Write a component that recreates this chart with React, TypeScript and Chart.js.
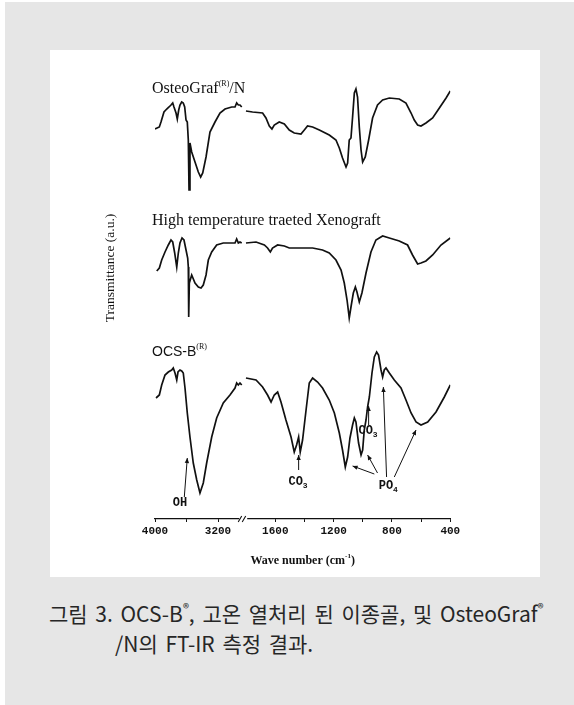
import React, { useEffect, useRef } from "react";
import { Chart, registerables } from "chart.js";

Chart.register(...registerables);

// ---- Spectra: wavenumber (cm^-1) and offset transmittance (a.u.) ----
// OsteoGraf/N
const osteoHighWn = [4000, 3945, 3924, 3886, 3851, 3822, 3797, 3775, 3759, 3733, 3717, 3699, 3683, 3661, 3641, 3623, 3606, 3590, 3577, 3568, 3556, 3534, 3492, 3450, 3420, 3394, 3352, 3302, 3238, 3175, 3111, 3026, 2984, 2963, 2942, 2921, 2899];
const osteoHighT = [39.0, 39.2, 39.7, 40.7, 41.0, 41.2, 41.4, 41.6, 41.2, 40.6, 40.0, 40.9, 41.4, 41.7, 41.6, 41.2, 39.9, 39.7, 37.9, 32.9, 37.6, 36.7, 35.7, 34.7, 34.2, 34.6, 36.2, 38.7, 39.7, 40.6, 41.0, 41.2, 41.2, 41.6, 41.4, 41.4, 41.2];
const osteoLowWn = [1801, 1756, 1687, 1664, 1641, 1623, 1607, 1573, 1538, 1504, 1470, 1424, 1401, 1379, 1344, 1298, 1230, 1184, 1161, 1139, 1115, 1104, 1093, 1081, 1070, 1058, 1047, 1036, 1024, 1012, 1001, 983, 960, 933, 899, 864, 818, 750, 704, 669, 647, 624, 601, 567, 521, 475, 429, 400];
const osteoLowT = [40.8, 40.7, 40.6, 40.1, 39.3, 39.0, 39.4, 39.7, 39.5, 38.9, 38.6, 38.5, 38.9, 39.3, 39.2, 38.9, 38.4, 37.9, 37.1, 36.1, 35.2, 35.6, 37.9, 38.1, 40.2, 42.6, 43.0, 42.2, 39.2, 36.9, 35.7, 36.2, 37.9, 40.1, 41.4, 41.9, 42.1, 42.0, 41.6, 40.6, 39.9, 39.4, 39.3, 39.6, 40.1, 41.1, 42.1, 42.8];

// High temperature treated xenograft
const xenoHighWn = [3978, 3945, 3915, 3873, 3831, 3797, 3775, 3750, 3724, 3704, 3683, 3657, 3632, 3606, 3585, 3577, 3572, 3564, 3534, 3492, 3450, 3416, 3387, 3352, 3323, 3280, 3217, 3133, 3026, 2984, 2963, 2942, 2921, 2899];
const xenoHighT = [24.8, 25.1, 25.9, 26.7, 27.4, 27.9, 27.7, 26.6, 25.2, 26.6, 27.6, 28.1, 27.9, 26.9, 26.1, 25.2, 20.2, 23.6, 24.4, 23.6, 23.2, 23.1, 23.4, 24.4, 25.9, 26.7, 27.4, 27.6, 27.6, 27.6, 28.0, 27.6, 27.7, 27.6];
const xenoLowWn = [1801, 1732, 1675, 1653, 1634, 1619, 1584, 1538, 1504, 1435, 1344, 1276, 1230, 1184, 1149, 1127, 1108, 1097, 1093, 1081, 1065, 1051, 1040, 1024, 1006, 978, 944, 910, 864, 818, 750, 693, 659, 624, 601, 567, 521, 464, 400];
const xenoLowT = [27.6, 27.7, 27.4, 27.1, 26.7, 27.1, 27.4, 27.3, 27.1, 27.1, 27.1, 26.9, 26.6, 25.9, 24.9, 23.6, 21.9, 20.6, 20.1, 21.2, 22.6, 23.2, 22.7, 21.7, 22.6, 24.6, 26.7, 27.9, 28.3, 28.1, 27.8, 27.4, 26.4, 25.5, 25.6, 25.8, 26.4, 27.4, 28.1];

// OCS-B
const ocsHighWn = [3987, 3945, 3915, 3873, 3831, 3788, 3768, 3746, 3724, 3708, 3683, 3661, 3641, 3619, 3590, 3556, 3514, 3470, 3429, 3387, 3344, 3280, 3217, 3133, 3048, 2984, 2963, 2942, 2921, 2899];
const ocsHighT = [12.1, 12.4, 13.4, 14.4, 14.7, 14.9, 15.1, 14.6, 13.9, 14.7, 14.9, 14.8, 14.6, 13.1, 10.6, 8.2, 5.6, 3.9, 2.6, 3.6, 5.6, 8.2, 10.1, 11.6, 12.4, 13.1, 13.6, 13.4, 13.6, 13.4];
const ocsLowWn = [1801, 1732, 1687, 1653, 1629, 1607, 1584, 1561, 1527, 1492, 1470, 1454, 1440, 1429, 1413, 1389, 1367, 1344, 1310, 1276, 1230, 1195, 1161, 1139, 1120, 1104, 1088, 1070, 1058, 1047, 1029, 1012, 1001, 990, 978, 967, 955, 937, 921, 905, 892, 875, 864, 853, 841, 818, 784, 738, 704, 669, 635, 601, 555, 498, 441, 400];
const ocsLowT = [14.1, 13.9, 13.2, 12.4, 11.7, 12.4, 12.7, 11.7, 9.9, 8.2, 6.7, 7.4, 8.2, 6.7, 7.9, 10.9, 13.6, 14.1, 13.7, 13.1, 11.9, 10.6, 8.6, 6.9, 5.2, 6.2, 8.1, 9.4, 10.1, 9.7, 7.6, 6.4, 6.9, 8.9, 9.9, 11.2, 12.2, 14.6, 16.2, 16.7, 16.4, 14.9, 14.2, 14.9, 15.1, 14.6, 13.9, 13.1, 11.9, 10.6, 9.7, 9.4, 9.7, 10.7, 12.2, 13.4];

// ---- Axes ----
const highRange = [2880, 4000];
const lowRange = [400, 1820];
const highTicks = [4000, 3600, 3200];
const highTickLabels = ["4000", "", "3200"];
const lowTicks = [1600, 1400, 1200, 1000, 800, 600, 400];
const lowTickLabels = ["1600", "", "1200", "", "800", "", "400"];
const yRange = [0, 46];

// ---- Labels & annotations (data coordinates) ----
const seriesNames = ["OsteoGraf", "High temperature traeted Xenograft", "OCS-B"];
const seriesSup = ["(R)", "", "(R)"];
const seriesTail = ["/N", "", ""];
const seriesLabelWn = [4038, 4038, 4038];
const seriesLabelT = [43.0, 29.8, 16.7];

const bandNames = ["OH", "CO", "CO", "PO"];
const bandSubs = ["", "3", "3", "4"];
const bandAxis = ["xHigh", "xLow", "xLow", "xLow"];
const bandWn = [3683, 1444, 964, 825];
const bandT = [1.65, 3.7, 8.8, 3.3];

const arrowAxis = ["xHigh", "xLow", "xLow", "xLow", "xLow", "xLow", "xLow"];
const arrowFromWn = [3628, 1440, 960, 921, 899, 837, 784];
const arrowFromT = [2.2, 4.9, 9.4, 4.5, 4.6, 4.2, 4.2];
const arrowToWn = [3590, 1440, 960, 1070, 967, 859, 635];
const arrowToT = [6.1, 6.4, 11.3, 5.3, 6.4, 13.2, 8.9];

const SERIF = '"Liberation Serif", "Times New Roman", serif';
const MONO = '"Liberation Mono", "Courier New", monospace';
const SANS = '"Liberation Sans", Arial, sans-serif';
const INK = "#111";

type Part = { text: string; font: string; dy: number };

function drawRich(ctx: CanvasRenderingContext2D, parts: Part[], x: number, y: number, align: "left" | "center") {
  let total = 0;
  const widths = parts.map((p) => {
    ctx.font = p.font;
    const w = ctx.measureText(p.text).width;
    total += w;
    return w;
  });
  let cx = align === "center" ? x - total / 2 : x;
  parts.forEach((p, i) => {
    ctx.font = p.font;
    ctx.fillText(p.text, cx, y + p.dy);
    cx += widths[i];
  });
}

function drawArrow(ctx: CanvasRenderingContext2D, x1: number, y1: number, x2: number, y2: number) {
  ctx.beginPath();
  ctx.moveTo(x1, y1);
  ctx.lineTo(x2, y2);
  ctx.stroke();
  const a = Math.atan2(y2 - y1, x2 - x1);
  const L = 5, W = 2.2;
  ctx.beginPath();
  ctx.moveTo(x2, y2);
  ctx.lineTo(x2 - L * Math.cos(a) + W * Math.sin(a), y2 - L * Math.sin(a) - W * Math.cos(a));
  ctx.lineTo(x2 - L * Math.cos(a) - W * Math.sin(a), y2 - L * Math.sin(a) + W * Math.cos(a));
  ctx.closePath();
  ctx.fill();
}

const annotPlugin = {
  id: "ftirAnnot",
  afterDraw(chart: any) {
    const ctx: CanvasRenderingContext2D = chart.ctx;
    const sc = chart.scales;
    const px = (axis: string, wn: number) => sc[axis].getPixelForValue(wn);
    const py = (t: number) => sc.y.getPixelForValue(t);
    const area = chart.chartArea;
    ctx.save();
    ctx.fillStyle = INK;
    ctx.strokeStyle = INK;
    ctx.textBaseline = "middle";

    // axis break "//"
    const jx = sc.xHigh.right;
    const ay = sc.xHigh.top;
    ctx.fillStyle = "#fff";
    ctx.fillRect(jx - 4, ay - 2, 8, 4);
    ctx.fillStyle = INK;
    ctx.lineWidth = 1.1;
    ctx.beginPath();
    ctx.moveTo(jx - 5, ay + 3);
    ctx.lineTo(jx - 1.5, ay - 3);
    ctx.moveTo(jx - 1, ay + 3);
    ctx.lineTo(jx + 2.5, ay - 3);
    ctx.stroke();

    // x title
    drawRich(
      ctx,
      [
        { text: "Wave number (cm", font: `bold 12px ${SERIF}`, dy: 0 },
        { text: "-1", font: `bold 7px ${SERIF}`, dy: -5 },
        { text: ")", font: `bold 12px ${SERIF}`, dy: 0 },
      ],
      (area.left + area.right) / 2,
      area.bottom + 42,
      "center"
    );

    // y title
    ctx.save();
    ctx.translate(area.left - 45, py(25.1));
    ctx.rotate(-Math.PI / 2);
    ctx.font = `13.5px ${SERIF}`;
    ctx.textAlign = "center";
    ctx.fillText("Transmittance (a.u.)", 0, 0);
    ctx.restore();
    ctx.textAlign = "left";

    // series labels
    seriesNames.forEach((name, i) => {
      const isSans = name === "OCS-B";
      const main = isSans ? `14px ${SANS}` : i === 1 ? `16px ${SERIF}` : `16px ${SERIF}`;
      const parts: Part[] = [{ text: name, font: main, dy: 0 }];
      if (seriesSup[i]) parts.push({ text: seriesSup[i], font: `8px ${SERIF}`, dy: -5 });
      if (seriesTail[i]) parts.push({ text: seriesTail[i], font: main, dy: 0 });
      drawRich(ctx, parts, px("xHigh", seriesLabelWn[i]), py(seriesLabelT[i]), "left");
    });

    // band labels
    bandNames.forEach((name, i) => {
      const parts: Part[] = [{ text: name, font: `bold 12px ${MONO}`, dy: 0 }];
      if (bandSubs[i]) parts.push({ text: bandSubs[i], font: `bold 8px ${MONO}`, dy: 4 });
      drawRich(ctx, parts, px(bandAxis[i], bandWn[i]), py(bandT[i]), "center");
    });

    // arrows
    ctx.lineWidth = 1;
    arrowAxis.forEach((axis, i) => {
      drawArrow(
        ctx,
        px(axis, arrowFromWn[i]),
        py(arrowFromT[i]),
        px(axis, arrowToWn[i]),
        py(arrowToT[i])
      );
    });
    ctx.restore();
  },
};

function pts(wn: number[], t: number[]) {
  return wn.map((x, i) => ({ x, y: t[i] }));
}

function xAxis(range: number[], ticks: number[], labels: string[], weight: number) {
  return {
    type: "linear" as const,
    position: "bottom" as const,
    stack: "wn",
    stackWeight: weight,
    min: range[0],
    max: range[1],
    reverse: true,
    afterBuildTicks: (scale: any) => {
      scale.ticks = ticks.map((v) => ({ value: v }));
    },
    afterFit: (scale: any) => {
      scale.height = 30;
    },
    ticks: {
      autoSkip: false,
      maxRotation: 0,
      padding: 3,
      color: INK,
      font: { family: MONO, size: 11, weight: "bold" as const },
      callback: (v: number) => {
        const k = ticks.indexOf(v);
        return k >= 0 ? labels[k] : "";
      },
    },
    grid: {
      display: true,
      drawOnChartArea: false,
      drawTicks: true,
      tickLength: 3,
      color: INK,
      lineWidth: 1,
    },
    border: { display: true, color: INK, width: 1.2 },
  };
}

export default function App() {
  const ref = useRef<HTMLCanvasElement>(null);

  useEffect(() => {
    if (!ref.current) return;
    const line = (wn: number[], t: number[], axis: string) => ({
      data: pts(wn, t),
      xAxisID: axis,
      yAxisID: "y",
      borderColor: INK,
      borderWidth: 1.7,
      pointRadius: 0,
      tension: 0,
      fill: false,
    });
    const chart = new Chart(ref.current, {
      type: "line",
      data: {
        datasets: [
          line(osteoHighWn, osteoHighT, "xHigh"),
          line(osteoLowWn, osteoLowT, "xLow"),
          line(xenoHighWn, xenoHighT, "xHigh"),
          line(xenoLowWn, xenoLowT, "xLow"),
          line(ocsHighWn, ocsHighT, "xHigh"),
          line(ocsLowWn, ocsLowT, "xLow"),
        ] as any,
      },
      options: {
        animation: false,
        responsive: false,
        devicePixelRatio: 1,
        layout: { padding: { left: 105, right: 89.7, top: 9, bottom: 28 } },
        plugins: { legend: { display: false }, tooltip: { enabled: false }, title: { display: false } },
        scales: {
          xHigh: xAxis(highRange, highTicks, highTickLabels, (highRange[1] - highRange[0]) * 0.07875),
          xLow: xAxis(lowRange, lowTicks, lowTickLabels, (lowRange[1] - lowRange[0]) * 0.14583),
          y: { type: "linear", display: false, min: yRange[0], max: yRange[1] },
        } as any,
      },
      plugins: [annotPlugin],
    });
    return () => chart.destroy();
  }, []);

  const sup: React.CSSProperties = { fontSize: "0.6em", position: "relative", top: "-0.7em" };

  return (
    <div style={{ position: "absolute", left: 0, top: 0, width: 574, height: 705, background: "#fff", overflow: "hidden" }}>
      <div style={{ position: "absolute", left: 5, top: 2, right: 0, bottom: 0, background: "#e6e6e6" }} />
      <div style={{ position: "absolute", left: 50, top: 50, width: 490, height: 527, background: "#fff" }}>
        <canvas ref={ref} width={490} height={527} style={{ display: "block", width: 490, height: 527 }} />
      </div>
      <div
        style={{
          position: "absolute",
          left: 49,
          top: 600,
          fontFamily: '"Noto Sans CJK KR", "Noto Sans", sans-serif',
          fontSize: 21,
          lineHeight: "27px",
          wordSpacing: 3,
          color: "#262626",
          whiteSpace: "nowrap",
        }}
      >
        <div>
          그림 3. OCS-B<span style={sup}>®</span>, 고온 열처리 된 이종골, 및 OsteoGraf<span style={sup}>®</span>
        </div>
        <div style={{ paddingLeft: 66 }}>/N의 FT-IR 측정 결과.</div>
      </div>
    </div>
  );
}
